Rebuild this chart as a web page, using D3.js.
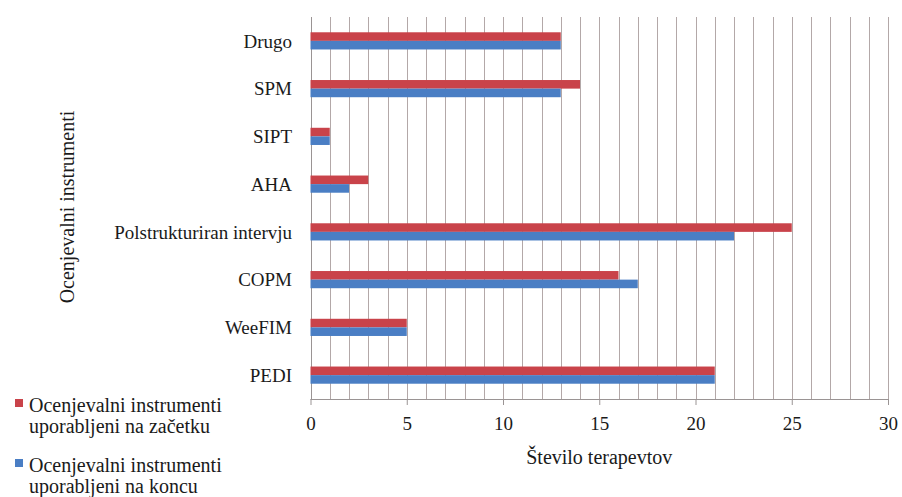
<!DOCTYPE html>
<html>
<head>
<meta charset="utf-8">
<script src="https://cdn.jsdelivr.net/npm/d3@7"></script>
</head>
<body style="margin:0;background:#fff">
<svg id="chart" width="902" height="497" style="display:block"></svg>
<script>
const categories = ["Drugo", "SPM", "SIPT", "AHA", "Polstrukturiran intervju", "COPM", "WeeFIM", "PEDI"];
const seriesNames = ["Ocenjevalni instrumenti uporabljeni na začetku", "Ocenjevalni instrumenti uporabljeni na koncu"];
const valuesStart = [13, 14, 1, 3, 25, 16, 5, 21];
const valuesEnd   = [13, 13, 1, 2, 22, 17, 5, 21];
const xTicks = [0, 5, 10, 15, 20, 25, 30];
const legendLines = [["Ocenjevalni instrumenti", "uporabljeni na začetku"], ["Ocenjevalni instrumenti", "uporabljeni na koncu"]];
const colors = ["#c9434a", "#4a7ec4"];

(function () {
const FONT = "'Liberation Serif', Tinos, 'Times New Roman', Times, serif";
const svg = d3.select("#chart");
const pLeft = 310.5, pRight = 888, pTop = 17, pBottom = 399;

const x = d3.scaleLinear().domain([0, 30]).range([pLeft, pRight]);
const y = d3.scaleBand().domain(categories).range([pTop, pBottom]).paddingInner(0.64).paddingOuter(0.32);
const ySub = d3.scaleBand().domain([0, 1]).range([0, y.bandwidth()]);

// minor gridlines every 1 unit
const gridVals = d3.range(0, 31);
svg.append("g").selectAll("line").data(gridVals).join("line")
  .attr("x1", d => Math.round(x(d)) + 0.5).attr("x2", d => Math.round(x(d)) + 0.5)
  .attr("y1", pTop).attr("y2", pBottom)
  .attr("stroke", d => d === 0 ? "#9a9494" : "#b3a8a8").attr("stroke-width", 1);

// bars
const data = categories.map((c, i) => ({c, vals: [valuesStart[i], valuesEnd[i]]}));
const groups = svg.append("g").selectAll("g").data(data).join("g")
  .attr("transform", d => `translate(0,${y(d.c)})`);
groups.selectAll("rect").data(d => d.vals.map((v, k) => ({v, k}))).join("rect")
  .attr("x", x(0))
  .attr("y", d => ySub(d.k))
  .attr("width", d => x(d.v) - x(0))
  .attr("height", ySub.bandwidth())
  .attr("fill", d => colors[d.k]);

// x axis
const xAxis = svg.append("g").attr("transform", `translate(0,${pBottom})`)
  .call(d3.axisBottom(x).tickValues(xTicks).tickSize(6).tickPadding(12).tickFormat(d3.format("d")));
xAxis.attr("font-family", null);
xAxis.select(".domain").attr("stroke", "#9a9494").attr("d", `M${pLeft},0.5H${pRight}`);
xAxis.selectAll(".tick line").attr("stroke", "#9a9494");
xAxis.selectAll(".tick text").style("font-size", "19px").attr("fill", "#1a1a1a");

// category labels
svg.append("g").selectAll("text").data(categories).join("text")
  .attr("x", 292)
  .attr("y", d => y(d) + y.bandwidth() / 2)
  .attr("dy", "0.35em")
  .attr("text-anchor", "end")
  .style("font-size", "19px")
  .attr("fill", "#1a1a1a")
  .text(d => d);

// axis titles
svg.append("text")
  .attr("x", (pLeft + pRight) / 2).attr("y", 464)
  .attr("text-anchor", "middle").style("font-size", "20px").attr("fill", "#1a1a1a")
  .text("Število terapevtov");
svg.append("text")
  .attr("transform", "translate(74,207) rotate(-90)")
  .attr("text-anchor", "middle").style("font-size", "20px").attr("fill", "#1a1a1a")
  .text("Ocenjevalni instrumenti");

// legend
const legendY = [399, 459];
const leg = svg.append("g").selectAll("g").data(seriesNames).join("g")
  .attr("transform", (d, i) => `translate(0,${legendY[i]})`);
leg.append("rect").attr("x", 15).attr("y", 0).attr("width", 8).attr("height", 8)
  .attr("fill", (d, i) => colors[i]);
leg.each(function(d, i) {
  const g = d3.select(this);
  legendLines[i].forEach((line, j) => {
    g.append("text").attr("x", 29).attr("y", 13 + j * 21)
      .style("font-size", "20px").attr("fill", "#1a1a1a").text(line);
  });
});
svg.selectAll("text").style("font-family", FONT);
if (document.fonts && document.fonts.ready) {
  document.fonts.ready.then(() => svg.selectAll("text").style("font-family", FONT));
}
})();
</script>
</body>
</html>
